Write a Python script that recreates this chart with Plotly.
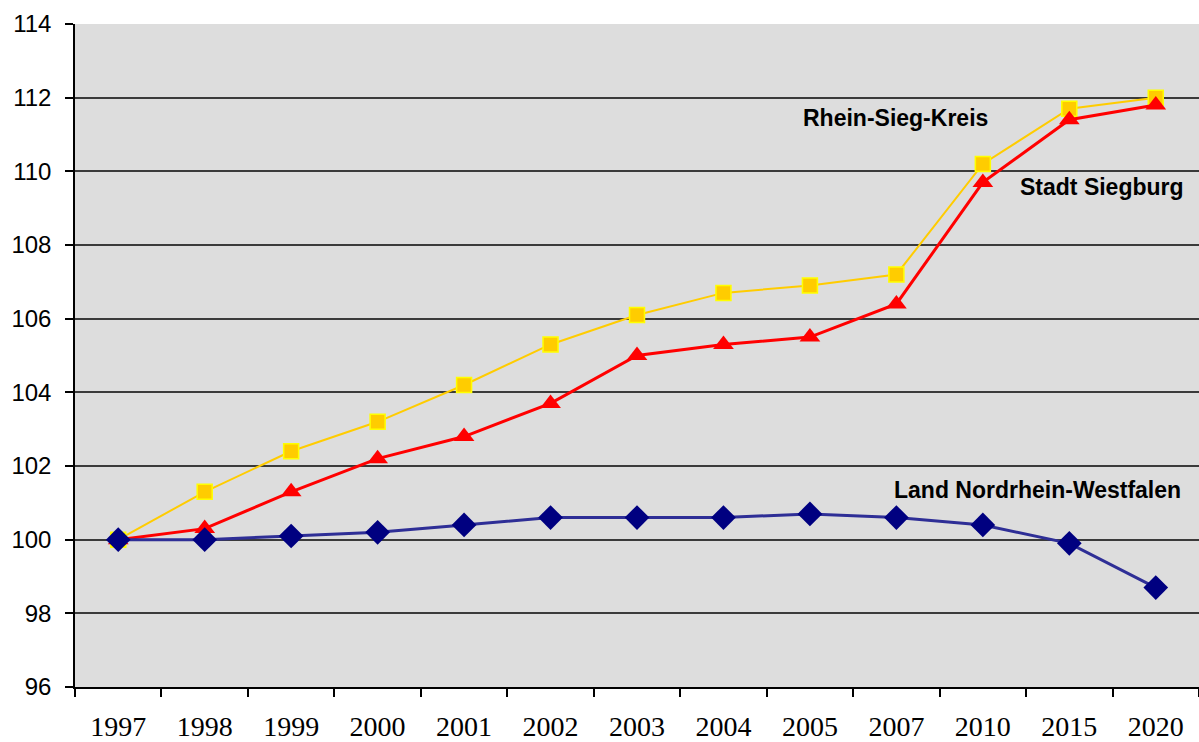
import plotly.graph_objects as go

years = ["1997", "1998", "1999", "2000", "2001", "2002", "2003", "2004", "2005", "2007", "2010", "2015", "2020"]
rhein_sieg_kreis = [100.0, 101.3, 102.4, 103.2, 104.2, 105.3, 106.1, 106.7, 106.9, 107.2, 110.2, 111.7, 112.0]
stadt_siegburg = [100.0, 100.3, 101.3, 102.2, 102.8, 103.7, 105.0, 105.3, 105.5, 106.4, 109.7, 111.4, 111.8]
land_nrw = [100.0, 100.0, 100.1, 100.2, 100.4, 100.6, 100.6, 100.6, 100.7, 100.6, 100.4, 99.9, 98.7]
y_ticks = [96, 98, 100, 102, 104, 106, 108, 110, 112, 114]

fig = go.Figure()
fig.add_trace(go.Scatter(
    x=years, y=rhein_sieg_kreis, mode="lines+markers", name="Rhein-Sieg-Kreis",
    line=dict(color="#FFCC00", width=2),
    marker=dict(symbol="square", size=15, color="#FFCC00", line=dict(color="#FFFF00", width=1.5)),
))
fig.add_trace(go.Scatter(
    x=years, y=stadt_siegburg, mode="lines+markers", name="Stadt Siegburg",
    line=dict(color="#FF0000", width=3),
    marker=dict(symbol="triangle-up", size=18, color="#FF0000"),
))
fig.add_trace(go.Scatter(
    x=years, y=land_nrw, mode="lines+markers", name="Land Nordrhein-Westfalen",
    line=dict(color="#2E2E96", width=3),
    marker=dict(symbol="diamond", size=19, color="#000080"),
))

ann_font = dict(family="Liberation Sans, Arial, sans-serif", size=23, color="#000000")
labels = [
    ("<b>Rhein-Sieg-Kreis</b>", 895, 118),
    ("<b>Stadt Siegburg</b>", 1102, 188),
    ("<b>Land Nordrhein-Westfalen</b>", 1037, 492),
]
for text, px, py in labels:
    fig.add_annotation(xref="paper", yref="paper", x=(px - 75) / 1124, y=(690 - py) / 666,
                       xanchor="center", yanchor="middle",
                       text=text, showarrow=False, font=ann_font)

fig.update_layout(
    width=1199, height=742,
    margin=dict(l=75, r=0, t=24, b=48),
    paper_bgcolor="#FFFFFF", plot_bgcolor="#DDDDDD",
    showlegend=False,
    xaxis=dict(
        type="category", tickson="boundaries", ticks="outside", ticklen=8, tickwidth=1.5,
        tickcolor="#000000", showgrid=False, showline=True, linecolor="#000000", linewidth=1.5,
        tickfont=dict(family="Liberation Serif, Times New Roman, serif", size=28, color="#000000"),
        range=[-0.5, 12.5], ticklabelstandoff=14,
    ),
    yaxis=dict(
        range=[96, 114], tickvals=y_ticks, ticks="outside", ticklen=8, tickwidth=1.5,
        tickcolor="#000000", showgrid=True, gridcolor="#3A3A3A", gridwidth=1.5,
        showline=True, linecolor="#000000", linewidth=1.5, zeroline=False,
        tickfont=dict(family="Liberation Sans, Arial, sans-serif", size=24, color="#000000"),
        ticklabelstandoff=9,
    ),
)

fig.write_html(
    "out.html",
    config={"displayModeBar": False},
    post_script="document.body.style.margin='0';document.body.style.overflow='hidden';",
)
